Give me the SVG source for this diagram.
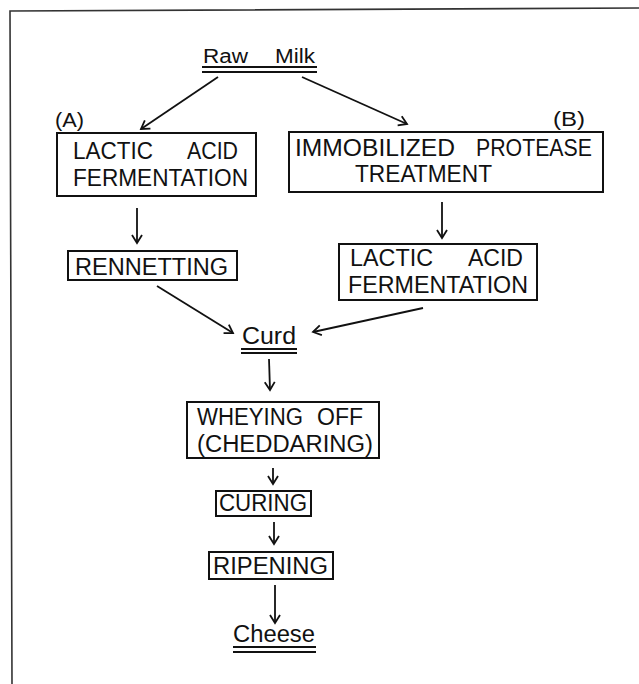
<svg xmlns="http://www.w3.org/2000/svg" width="639" height="684" viewBox="0 0 639 684">
<defs>
<style>
.t{font-family:"Liberation Sans","DejaVu Sans",sans-serif;fill:#111;font-size:23px}
.s{font-size:20px}
.b{fill:none;stroke:#111;stroke-width:2}
.c{fill:none;stroke:#111;stroke-width:1.8}
.u{stroke:#111;stroke-width:1.8}
</style>
<marker id="ah" markerUnits="userSpaceOnUse" markerWidth="14" markerHeight="14" refX="10" refY="6" orient="auto">
<path d="M2,1 L10,6 L2,11" fill="none" stroke="#111" stroke-width="1.8"/>
</marker>
</defs>
<rect width="639" height="684" fill="#fff"/>
<polyline points="639,8 10,11 12,684" fill="none" stroke="#333" stroke-width="1.6"/>

<g id="raw-milk">
<text class="t s" x="203" y="63" textLength="45" lengthAdjust="spacingAndGlyphs">Raw</text>
<text class="t s" x="275" y="63" textLength="40" lengthAdjust="spacingAndGlyphs">Milk</text>
<line class="u" x1="202" y1="67" x2="317" y2="67"/>
<line class="u" x1="202" y1="72" x2="317" y2="72"/>
</g>
<g id="label-a"><text class="t s" x="55" y="127" textLength="29" lengthAdjust="spacingAndGlyphs">(A)</text></g>
<g id="label-b"><text class="t s" x="553" y="126" textLength="32" lengthAdjust="spacingAndGlyphs">(B)</text></g>

<g id="lactic-a">
<rect class="b" x="57" y="133" width="199" height="63"/>
<text class="t" x="73" y="159" textLength="80" lengthAdjust="spacingAndGlyphs">LACTIC</text>
<text class="t" x="187" y="159" textLength="51" lengthAdjust="spacingAndGlyphs">ACID</text>
<text class="t" x="73" y="186" textLength="175" lengthAdjust="spacingAndGlyphs">FERMENTATION</text>
</g>
<g id="immobilized">
<rect class="b" x="289" y="132" width="314" height="60"/>
<text class="t" x="295" y="156" textLength="160" lengthAdjust="spacingAndGlyphs">IMMOBILIZED</text>
<text class="t" x="476" y="156" textLength="116" lengthAdjust="spacingAndGlyphs">PROTEASE</text>
<text class="t" x="355" y="182" textLength="137" lengthAdjust="spacingAndGlyphs">TREATMENT</text>
</g>
<g id="rennetting">
<rect class="b" x="68" y="251" width="169" height="29"/>
<text class="t" x="75" y="275" textLength="153" lengthAdjust="spacingAndGlyphs">RENNETTING</text>
</g>
<g id="lactic-b">
<rect class="b" x="339" y="244" width="198" height="56"/>
<text class="t" x="350" y="266" textLength="83" lengthAdjust="spacingAndGlyphs">LACTIC</text>
<text class="t" x="468" y="266" textLength="55" lengthAdjust="spacingAndGlyphs">ACID</text>
<text class="t" x="348" y="293" textLength="180" lengthAdjust="spacingAndGlyphs">FERMENTATION</text>
</g>
<g id="curd">
<text class="t" x="242" y="344" textLength="54" lengthAdjust="spacingAndGlyphs">Curd</text>
<line class="u" x1="241" y1="349" x2="297" y2="349"/>
<line class="u" x1="241" y1="353" x2="297" y2="353"/>
</g>
<g id="wheying">
<rect class="b" x="187" y="402" width="192" height="56"/>
<text class="t" x="197" y="425" textLength="106" lengthAdjust="spacingAndGlyphs">WHEYING</text>
<text class="t" x="317" y="425" textLength="46" lengthAdjust="spacingAndGlyphs">OFF</text>
<text class="t" x="197" y="452" textLength="176" lengthAdjust="spacingAndGlyphs">(CHEDDARING)</text>
</g>
<g id="curing">
<rect class="b" x="216" y="491" width="95" height="25"/>
<text class="t" x="219" y="511" textLength="88" lengthAdjust="spacingAndGlyphs">CURING</text>
</g>
<g id="ripening">
<rect class="b" x="209" y="552" width="124" height="27"/>
<text class="t" x="213" y="574" textLength="115" lengthAdjust="spacingAndGlyphs">RIPENING</text>
</g>
<g id="cheese">
<text class="t" x="233" y="642" textLength="82" lengthAdjust="spacingAndGlyphs">Cheese</text>
<line class="u" x1="233" y1="647" x2="316" y2="647"/>
<line class="u" x1="233" y1="652" x2="316" y2="652"/>
</g>

<g id="connectors">
<line class="c" x1="218" y1="77" x2="141" y2="129" marker-end="url(#ah)"/>
<line class="c" x1="302" y1="77" x2="407" y2="124" marker-end="url(#ah)"/>
<line class="c" x1="137" y1="208" x2="137" y2="243" marker-end="url(#ah)"/>
<line class="c" x1="442" y1="202" x2="442" y2="238" marker-end="url(#ah)"/>
<line class="c" x1="157" y1="286" x2="233" y2="333" marker-end="url(#ah)"/>
<line class="c" x1="423" y1="308" x2="313" y2="332" marker-end="url(#ah)"/>
<line class="c" x1="269" y1="359" x2="270" y2="390" marker-end="url(#ah)"/>
<line class="c" x1="273" y1="468" x2="273" y2="484" marker-end="url(#ah)"/>
<line class="c" x1="274" y1="522" x2="274" y2="544" marker-end="url(#ah)"/>
<line class="c" x1="275" y1="585" x2="275" y2="623" stroke-width="2.4" marker-end="url(#ah)"/>
</g>
</svg>
